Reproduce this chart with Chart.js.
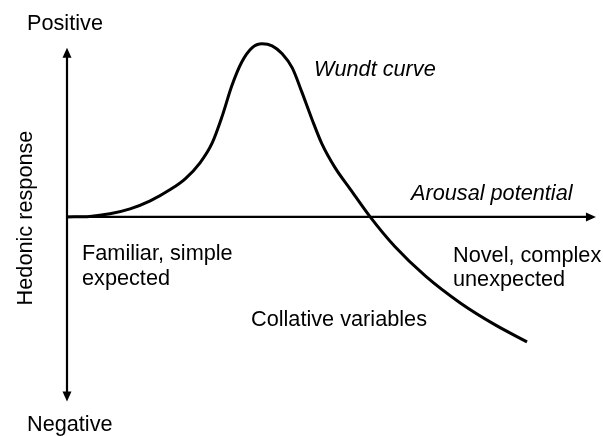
<!DOCTYPE html>
<html>
<head>
<meta charset="utf-8">
<script src="https://cdn.jsdelivr.net/npm/chart.js@4.4.0/dist/chart.umd.min.js"></script>
<style>
  html, body { margin: 0; padding: 0; background: #fff; }
  #wrap { width: 603px; height: 436px; }
</style>
</head>
<body>
<div id="wrap"><canvas id="wundtChart" width="603" height="436"></canvas></div>
<script>
// Wundt curve, arousal potential (x) vs hedonic response (y)
const arousal = [0, 0.43, 0.81, 1.19, 1.57, 1.94, 2.23, 2.51, 2.74, 2.93, 3.11, 3.30, 3.49, 3.68, 3.87, 4.06, 4.25, 4.43, 4.62, 4.81, 5.06, 5.34, 5.72, 6.19, 6.76, 7.42, 8.08, 8.68];
const hedonic = [0, 0.03, 0.18, 0.47, 0.94, 1.59, 2.24, 3.18, 4.35, 5.94, 7.71, 9.12, 9.94, 10.18, 10.06, 9.59, 8.76, 7.35, 5.76, 4.29, 2.88, 1.65, 0, -1.76, -3.47, -5.06, -6.35, -7.35];

// axis extents (data units) and ranges
const xRange = [0, 10];
const yRange = [-11, 10.4];
const xArrowEnd = 9.98;
const yArrowEnds = [-10.86, 9.94];

const FONT = '21.7px "Liberation Sans", Arial, sans-serif';
const FONT_IT = 'italic 21.7px "Liberation Sans", Arial, sans-serif';

const points = arousal.map((x, i) => ({ x: x, y: hedonic[i] }));

function arrowHead(ctx, x, y, dir) {
    // dir: 'right', 'up', 'down'
    const len = 10, half = 4.5;
    ctx.beginPath();
    if (dir === 'right') {
        ctx.moveTo(x, y);
        ctx.lineTo(x - len, y - half);
        ctx.lineTo(x - len, y + half);
    } else if (dir === 'up') {
        ctx.moveTo(x, y);
        ctx.lineTo(x - half, y + len);
        ctx.lineTo(x + half, y + len);
    } else {
        ctx.moveTo(x, y);
        ctx.lineTo(x - half, y - len);
        ctx.lineTo(x + half, y - len);
    }
    ctx.closePath();
    ctx.fill();
}

const axesPlugin = {
    id: 'axesArrows',
    beforeDatasetsDraw(chart) {
        const ctx = chart.ctx;
        const xs = chart.scales.x, ys = chart.scales.y;
        const x0 = xs.getPixelForValue(0);
        const y0 = ys.getPixelForValue(0);
        const xEnd = xs.getPixelForValue(xArrowEnd);
        const yTop = ys.getPixelForValue(yArrowEnds[1]);
        const yBot = ys.getPixelForValue(yArrowEnds[0]);
        ctx.save();
        ctx.strokeStyle = '#000';
        ctx.fillStyle = '#000';
        ctx.lineWidth = 2.2;
        ctx.beginPath();
        ctx.moveTo(x0, y0);
        ctx.lineTo(xEnd - 4, y0);
        ctx.moveTo(x0, yTop + 4);
        ctx.lineTo(x0, yBot - 4);
        ctx.stroke();
        arrowHead(ctx, xEnd, y0, 'right');
        arrowHead(ctx, x0, yTop, 'up');
        arrowHead(ctx, x0, yBot, 'down');
        ctx.restore();
    }
};

const labelsPlugin = {
    id: 'textLabels',
    afterDraw(chart) {
        const ctx = chart.ctx;
        ctx.save();
        ctx.fillStyle = '#000';
        ctx.textBaseline = 'alphabetic';
        ctx.textAlign = 'left';
        ctx.font = FONT;
        ctx.fillText('Positive', 27, 30);
        ctx.fillText('Negative', 27, 431);
        ctx.fillText('Familiar, simple', 82, 260);
        ctx.fillText('expected', 82, 285);
        ctx.fillText('Novel, complex', 453, 262);
        ctx.fillText('unexpected', 453, 286);
        ctx.fillText('Collative variables', 251, 326);
        ctx.font = FONT_IT;
        ctx.fillText('Wundt curve', 314, 76);
        ctx.fillText('Arousal potential', 411, 200);
        // vertical axis title
        ctx.font = FONT;
        ctx.translate(32, 218);
        ctx.rotate(-Math.PI / 2);
        ctx.textAlign = 'center';
        ctx.fillText('Hedonic response', 0, 0);
        ctx.restore();
    }
};

new Chart(document.getElementById('wundtChart').getContext('2d'), {
    type: 'line',
    data: {
        datasets: [{
            label: 'Wundt curve',
            data: points,
            borderColor: '#000',
            borderWidth: 3,
            pointRadius: 0,
            fill: false,
            cubicInterpolationMode: 'monotone'
        }]
    },
    options: {
        responsive: false,
        animation: false,
        layout: {
            padding: { left: 67, right: 6, top: 40, bottom: 32 }
        },
        scales: {
            x: { type: 'linear', min: xRange[0], max: xRange[1], display: false },
            y: { type: 'linear', min: yRange[0], max: yRange[1], display: false }
        },
        plugins: {
            legend: { display: false },
            tooltip: { enabled: false }
        }
    },
    plugins: [axesPlugin, labelsPlugin]
});
</script>
</body>
</html>
